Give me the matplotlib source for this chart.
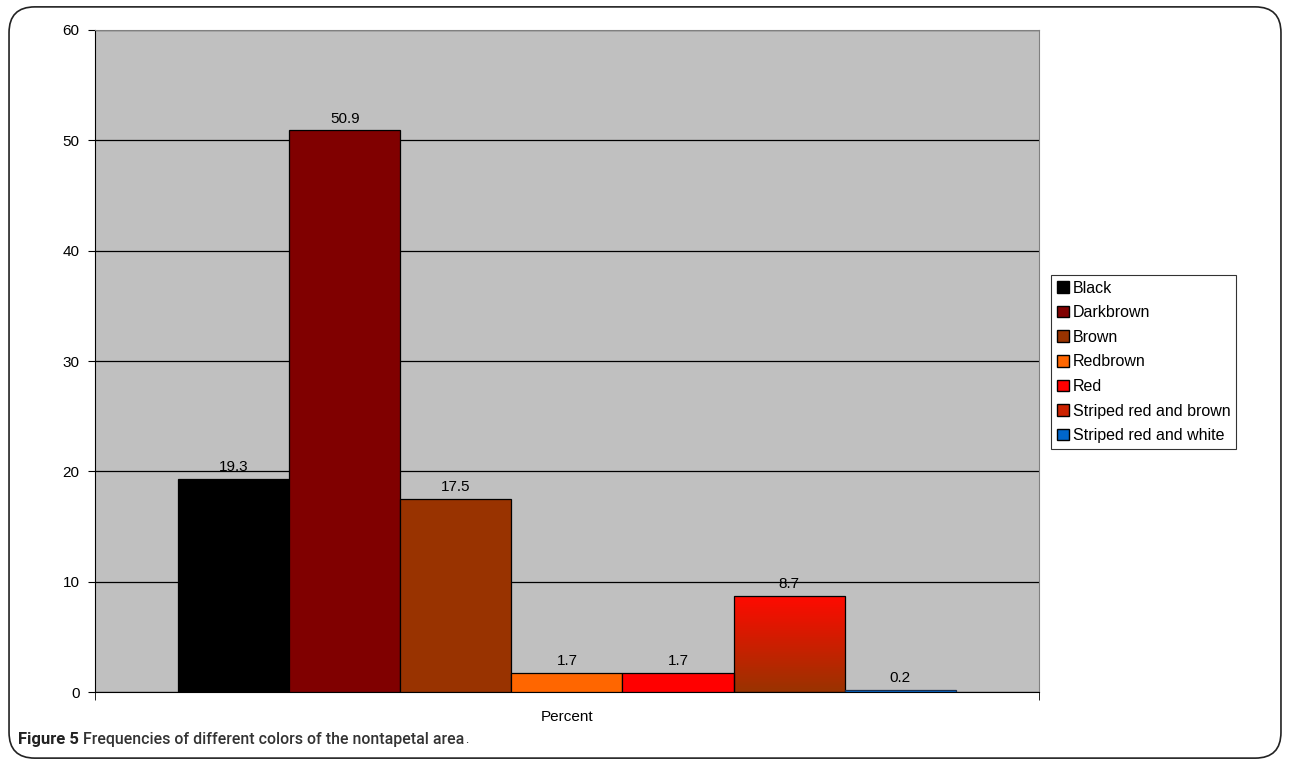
import numpy as np
import matplotlib
matplotlib.use("Agg")
import matplotlib.pyplot as plt
from matplotlib.patches import FancyBboxPatch, Patch
from matplotlib.colors import LinearSegmentedColormap

plt.rcParams["font.family"] = ["Liberation Sans", "DejaVu Sans"]

# Colour categories and their frequencies (%)
categories = ["Black", "Darkbrown", "Brown", "Redbrown", "Red",
              "Striped red and brown", "Striped red and white"]
values = [19.3, 50.9, 17.5, 1.7, 1.7, 8.7, 0.2]
colors = ["#000000", "#800000", "#993300", "#FF6600", "#FF0000",
          None, "#0066CC"]
stripe_top, stripe_bottom = "#FF0A00", "#993300"

fig = plt.figure(figsize=(12.9, 7.65), dpi=100)

# rounded frame around the whole figure
frame = FancyBboxPatch((0.007, 0.009), 0.986, 0.982,
                       boxstyle="round,pad=0,rounding_size=0.02",
                       transform=fig.transFigure, fill=False,
                       edgecolor="#222222", linewidth=1.2,
                       mutation_aspect=1290 / 765)
fig.add_artist(frame)

ax = fig.add_axes([0.0736, 0.0954, 0.7318, 0.8654])
ax.set_facecolor("#C0C0C0")

x = np.arange(len(categories))
gap = 0.75
ax.set_xlim(-0.5 - gap, len(categories) - 0.5 + gap)
ax.set_ylim(0, 60)

ax.set_yticks(np.arange(0, 61, 10))
ax.yaxis.grid(True, color="black", linewidth=0.9)
ax.set_axisbelow(True)

bars = ax.bar(x, values, width=1.0,
              color=[c if c else "none" for c in colors],
              edgecolor="black", linewidth=0.9, zorder=3)
bars[6].set_edgecolor("#1A3050")

# gradient fill for the striped red/brown bar
cmap = LinearSegmentedColormap.from_list("stripe", [stripe_bottom, stripe_top])
grad = np.linspace(0, 1, 256).reshape(-1, 1)
sb = bars[5]
img = ax.imshow(grad, cmap=cmap, origin="lower", aspect="auto",
                extent=[sb.get_x(), sb.get_x() + sb.get_width(), 0, sb.get_height()],
                zorder=2.5)
img.set_clip_path(sb)

for b, v in zip(bars, values):
    ax.annotate(f"{v}", (b.get_x() + b.get_width() / 2, v),
                xytext=(0, 3.5), textcoords="offset points",
                ha="center", va="bottom", fontsize=11)

for s in ["top", "right"]:
    ax.spines[s].set_color("#808080")
for s in ["left", "bottom"]:
    ax.spines[s].set_color("black")

ax.tick_params(axis="y", length=5, labelsize=11, pad=6)
ax.set_xticks([(len(categories) - 1) / 2])
ax.set_xticklabels(["Percent"], fontsize=11)
ax.tick_params(axis="x", which="major", length=0, pad=13)
ax.set_xticks(list(ax.get_xlim()), minor=True)
ax.tick_params(axis="x", which="minor", length=6)

swatch = [c if c else "#CC2200" for c in colors]
handles = [Patch(facecolor=c, edgecolor="black", linewidth=1.0) for c in swatch]
leg = fig.legend(handles, categories, loc="upper left",
                 bbox_to_anchor=(0.8147, 0.6405), fontsize=11.5,
                 frameon=True, fancybox=False, edgecolor="black",
                 handlelength=0.75, handleheight=0.75, handletextpad=0.25,
                 labelspacing=0.6, borderpad=0.35, borderaxespad=0)
leg.get_frame().set_linewidth(0.8)

# caption: bold label, title, then a small period, chained left to right
cap_font = ["Roboto", "DejaVu Sans"]
t1 = fig.text(0.014, 0.033, "Figure 5", fontsize=12, fontweight="bold",
              family=cap_font, color="#222222", va="center")
t2 = ax.annotate("Frequencies of different colors of the nontapetal area",
                 xy=(1, 0.5), xycoords=t1, xytext=(3, 0),
                 textcoords="offset points", fontsize=11.4, fontweight="medium",
                 family=cap_font, color="#333333", va="center",
                 annotation_clip=False)
ax.annotate(".", xy=(1, 0.5), xycoords=t2, xytext=(0.5, 0),
            textcoords="offset points", fontsize=9, family=cap_font,
            color="#222222", va="center", annotation_clip=False)

fig.savefig("out.png", dpi=100)
